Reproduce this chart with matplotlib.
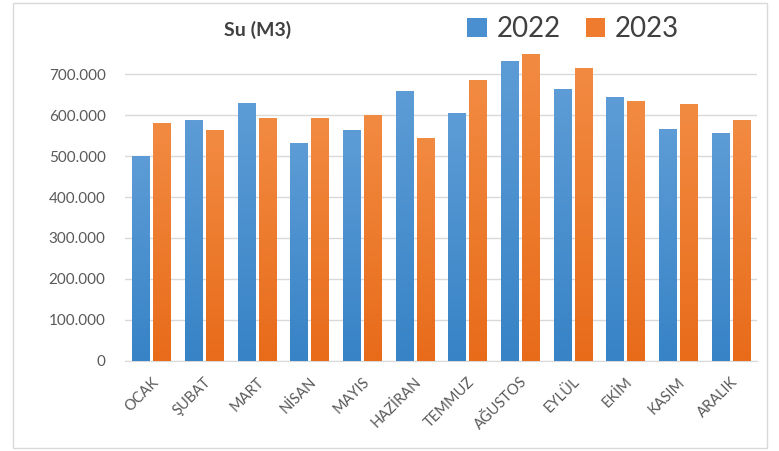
import numpy as np
import matplotlib.pyplot as plt
import matplotlib.transforms as mtransforms
from matplotlib.patches import Rectangle
from matplotlib.colors import LinearSegmentedColormap

plt.rcParams['font.family'] = ['Lato', 'DejaVu Sans']

months = ['OCAK', 'ŞUBAT', 'MART', 'NİSAN', 'MAYIS', 'HAZİRAN',
          'TEMMUZ', 'AĞUSTOS', 'EYLÜL', 'EKİM', 'KASIM', 'ARALIK']
su_2022 = [500000, 589000, 630000, 532000, 563000, 659000,
           604000, 731000, 663000, 645000, 567000, 555000]
su_2023 = [581000, 563000, 593000, 593000, 601000, 545000,
           686000, 749000, 715000, 634000, 626000, 589000]
yticks = [0, 100000, 200000, 300000, 400000, 500000, 600000, 700000]

grey = '#595959'


def fmt(v):
    return '{:,}'.format(v).replace(',', '.')


def gradient_bars(ax, bars, top_col, bottom_col):
    cmap = LinearSegmentedColormap.from_list('g', [bottom_col, top_col])
    grad = np.linspace(0, 1, 256).reshape(-1, 1)
    for b in bars:
        x0, y0 = b.get_x(), b.get_y()
        w, h = b.get_width(), b.get_height()
        im = ax.imshow(grad, cmap=cmap, origin='lower', aspect='auto',
                       extent=[x0, x0 + w, y0, y0 + h], zorder=3)
        im.set_clip_path(b)


fig = plt.figure(figsize=(7.79, 4.51), dpi=100)
ax = fig.add_axes([0.1605, 0.1996, 0.8115, 0.709])

x = np.arange(len(months))
w = 0.33
b1 = ax.bar(x - 0.2, su_2022, w, color='#4a90d0', label='2022', zorder=2)
b2 = ax.bar(x + 0.2, su_2023, w, color='#ee7b2e', label='2023', zorder=2)

gradient_bars(ax, b1, '#5d9cd6', '#3783c6')
gradient_bars(ax, b2, '#f28b42', '#e86b1a')
ax.set_xlim(-0.5, len(months) - 0.5)
ax.set_ylim(0, 780000)

ax.set_yticks(yticks)
ax.set_yticklabels([fmt(v) for v in yticks], fontsize=11, color=grey)
ax.set_xticks(x)
ax.set_xticklabels(months, rotation=45, ha='right', rotation_mode='anchor',
                   fontsize=10.5, color=grey)
shift = mtransforms.ScaledTranslation(0.06, 0, fig.dpi_scale_trans)
for lbl in ax.get_xticklabels():
    lbl.set_transform(lbl.get_transform() + shift)
ax.tick_params(axis='both', length=0)
ax.tick_params(axis='y', pad=14)
ax.tick_params(axis='x', pad=10)
ax.grid(axis='y', color='#d9d9d9', lw=1, zorder=0)
ax.set_axisbelow(True)
for s in ['top', 'right', 'left']:
    ax.spines[s].set_visible(False)
ax.spines['bottom'].set_color('#d9d9d9')

fig.text(0.331, 0.933, 'Su (M3)', fontsize=14, fontweight='bold',
         color='#404040', ha='center', va='center')
fig.legend(handles=[b1, b2], loc='center', bbox_to_anchor=(0.7356, 0.935),
           ncol=2, frameon=False, fontsize=20, handlelength=0.7,
           handleheight=0.7, handletextpad=0.35, columnspacing=0.9,
           labelcolor='#404040')

fig.add_artist(Rectangle((13 / 779, 3 / 451), 754 / 779, 445 / 451,
                         transform=fig.transFigure, fill=False,
                         edgecolor='#d9d9d9', lw=1))

fig.savefig('out.png', dpi=100)
